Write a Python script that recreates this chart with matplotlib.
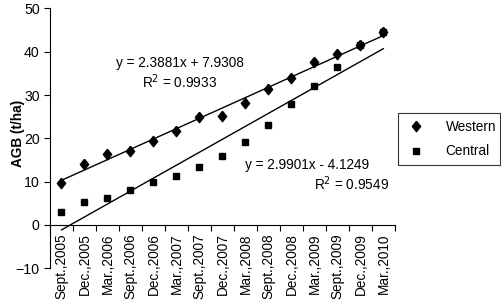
import numpy as np
import matplotlib.pyplot as plt

plt.rcParams['font.family'] = ['Liberation Sans', 'DejaVu Sans']

dates = ['Sept.,2005', 'Dec.,2005', 'Mar.,2006', 'Sept.,2006', 'Dec.,2006',
         'Mar.,2007', 'Sept.,2007', 'Dec.,2007', 'Mar.,2008', 'Sept.,2008',
         'Dec.,2008', 'Mar.,2009', 'Sept.,2009', 'Dec.,2009', 'Mar.,2010']
western = [9.8, 14.1, 16.3, 17.1, 19.4, 21.8, 24.9, 25.2, 28.1, 31.3,
           34.0, 37.6, 39.6, 41.6, 44.5]
central = [3.1, 5.4, 6.3, 8.1, 9.9, 11.4, 13.5, 15.9, 19.1, 23.1,
           27.9, 32.2, 36.6, 41.6, 44.5]

# trendline coefficients as printed on the chart
west_fit = (2.3881, 7.9308)
cent_fit = (2.9901, -4.1249)

x = np.arange(1, len(dates) + 1)
fs = 9.8

fig = plt.figure(figsize=(5.02, 3.0), dpi=100)
ax = fig.add_axes([0.0996, 0.1057, 0.687, 0.866])

diamond = [(0, 1), (0.8, 0), (0, -1), (-0.8, 0), (0, 1)]
ax.plot(x, western, linestyle='none', marker=diamond, markersize=7.5,
        color='black', label='Western')
ax.plot(x, central, linestyle='none', marker='s', markersize=4.6,
        color='black', label='Central')

ax.plot(x, west_fit[0] * x + west_fit[1], color='black', lw=1.0)
ax.plot(x, cent_fit[0] * x + cent_fit[1], color='black', lw=1.0)

ax.set_xlim(0.5, len(dates) + 0.5)
ax.set_ylim(-10, 50)
ax.set_yticks(range(-10, 51, 10))

# category axis sits on y=0, ticks between categories
ax.spines['bottom'].set_position(('data', 0))
ax.spines['top'].set_visible(False)
ax.spines['right'].set_visible(False)
ax.set_xticks(np.arange(0.5, len(dates) + 1, 1), minor=False)
ax.set_xticklabels([])
ax.set_xticks(x, minor=True)
ax.set_xticklabels(dates, minor=True, rotation=90, fontsize=fs)
ax.tick_params(axis='x', which='major', direction='out', length=4, width=0.8)
ax.tick_params(axis='x', which='minor', length=0, pad=6)
ax.tick_params(axis='y', direction='out', length=4, width=0.8, labelsize=fs + 0.4)

fig.text(18 / 502, 1 - 133 / 300, 'AGB (t/ha)', rotation=90, ha='center',
         va='center', fontweight='bold', fontsize=fs)

ax.text(6.15, 37.4, 'y = 2.3881x + 7.9308', ha='center', va='center', fontsize=fs)
ax.text(6.15, 33.0, 'R$^2$ = 0.9933', ha='center', va='center', fontsize=fs)
ax.text(11.7, 13.9, 'y = 2.9901x - 4.1249', ha='center', va='center', fontsize=fs)
ax.text(13.6, 9.6, 'R$^2$ = 0.9549', ha='center', va='center', fontsize=fs)

leg = ax.legend(loc='center', bbox_to_anchor=(398 / 502, 1 - 163 / 300, 102 / 502, 48 / 300),
                bbox_transform=fig.transFigure, mode='expand', frameon=True,
                fancybox=False, edgecolor='black', fontsize=fs,
                handlelength=1.6, handletextpad=1.4, borderpad=0.5,
                labelspacing=0.8, borderaxespad=0)
leg.get_frame().set_linewidth(0.8)

fig.savefig('out.png', dpi=100)
